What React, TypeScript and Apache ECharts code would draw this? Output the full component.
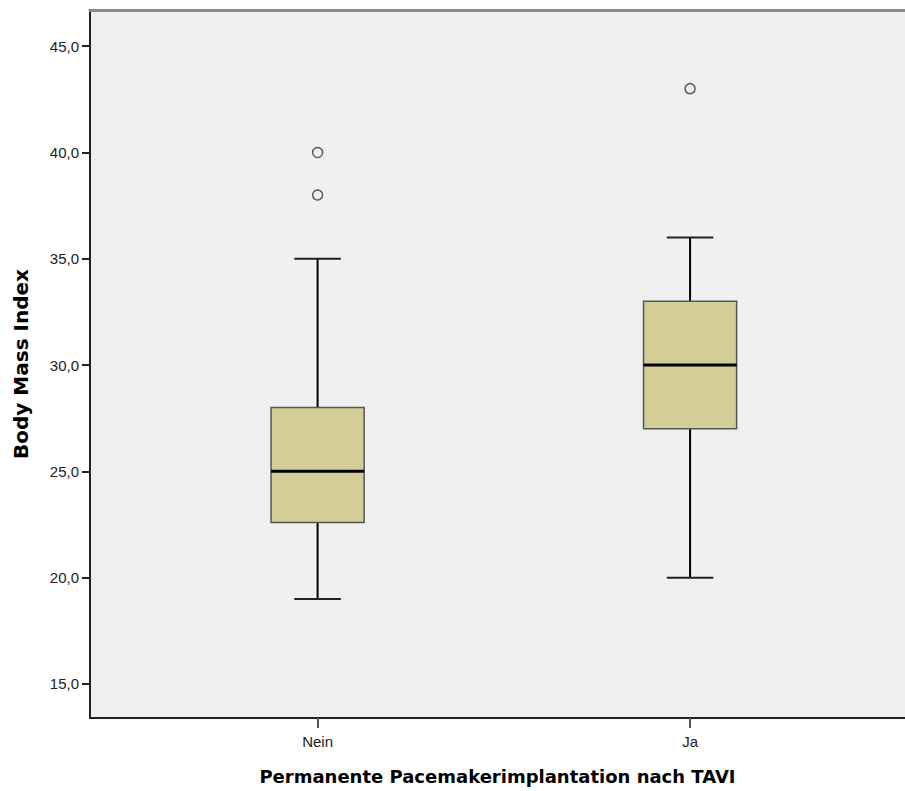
import React, { useEffect, useRef } from "react";
import * as echarts from "echarts";

const categories = ["Nein", "Ja"];
const whiskerLow = [19.0, 20.0];
const quartile1 = [22.6, 27.0];
const medians = [25.0, 30.0];
const quartile3 = [28.0, 33.0];
const whiskerHigh = [35.0, 36.0];
const outlierCategory = [0, 0, 1];
const outlierValues = [40.0, 38.0, 43.0];
const yTicks = [15, 20, 25, 30, 35, 40, 45];

const FONT = "'Liberation Sans', Arial, sans-serif";
const TITLE_FONT = "'DejaVu Sans', 'Liberation Sans', sans-serif";

export default function App() {
  const ref = useRef<HTMLDivElement>(null);
  useEffect(() => {
    if (!ref.current) return;
    const chart = echarts.init(ref.current, null, { renderer: "svg" });
    const boxData = categories.map((_, i) => [
      i + 1,
      whiskerLow[i],
      quartile1[i],
      medians[i],
      quartile3[i],
      whiskerHigh[i],
    ]);
    const outlierData = outlierValues.map((v, i) => [outlierCategory[i] + 1, v]);
    const boxWidth = 0.25;
    chart.setOption({
      animation: false,
      backgroundColor: "#ffffff",
      grid: { left: 90, right: 0, top: 10, bottom: 73, show: true, backgroundColor: "#f0f0f0", borderWidth: 0 },
      xAxis: [
        {
          type: "value",
          min: 0.389,
          max: 2.577,
          name: "Permanente Pacemakerimplantation nach TAVI",
          nameLocation: "middle",
          nameGap: 49,
          nameTextStyle: { fontFamily: TITLE_FONT, fontWeight: "bold", fontSize: 18, color: "#000" },
          splitLine: { show: false },
          axisLine: { show: true, lineStyle: { color: "#222", width: 2 } },
          axisTick: { show: true, customValues: [1, 2], length: 10, lineStyle: { color: "#555", width: 2 } },
          axisLabel: {
            customValues: [1, 2],
            formatter: (v: number) => categories[Math.round(v) - 1] ?? "",
            fontFamily: FONT,
            fontSize: 15,
            color: "#222",
            margin: 16,
          },
        },
        {
          type: "value",
          position: "top",
          min: 0.389,
          max: 2.577,
          splitLine: { show: false },
          axisLine: { show: true, lineStyle: { color: "#888", width: 3 } },
          axisTick: { show: false },
          axisLabel: { show: false },
        },
      ],
      yAxis: {
        type: "value",
        min: 13.4,
        max: 46.7,
        name: "Body Mass Index",
        nameLocation: "middle",
        nameGap: 59,
        nameTextStyle: { fontFamily: TITLE_FONT, fontWeight: "bold", fontSize: 20, color: "#000" },
        splitLine: { show: false },
        axisLine: { show: true, lineStyle: { color: "#222", width: 2 } },
        axisTick: { show: true, customValues: yTicks, length: 8, lineStyle: { color: "#222", width: 2 } },
        axisLabel: {
          customValues: yTicks,
          formatter: (v: number) => v.toFixed(1).replace(".", ","),
          fontFamily: FONT,
          fontSize: 15,
          color: "#222",
          margin: 11,
        },
      },
      series: [
        {
          type: "custom",
          xAxisIndex: 0,
          data: boxData,
          renderItem: (params: any, api: any) => {
            const x = api.value(0);
            const lo = api.coord([x, api.value(1)]);
            const q1 = api.coord([x, api.value(2)]);
            const med = api.coord([x, api.value(3)]);
            const q3 = api.coord([x, api.value(4)]);
            const hi = api.coord([x, api.value(5)]);
            const bw = api.size([boxWidth, 0])[0];
            const cw = bw / 2;
            const lineStyle = { stroke: "#000", lineWidth: 2 };
            return {
              type: "group",
              children: [
                { type: "line", shape: { x1: lo[0], y1: lo[1], x2: q1[0], y2: q1[1] }, style: lineStyle },
                { type: "line", shape: { x1: q3[0], y1: q3[1], x2: hi[0], y2: hi[1] }, style: lineStyle },
                { type: "line", shape: { x1: lo[0] - cw / 2, y1: lo[1], x2: lo[0] + cw / 2, y2: lo[1] }, style: { stroke: "#222", lineWidth: 2 } },
                { type: "line", shape: { x1: hi[0] - cw / 2, y1: hi[1], x2: hi[0] + cw / 2, y2: hi[1] }, style: { stroke: "#222", lineWidth: 2 } },
                {
                  type: "rect",
                  shape: { x: q3[0] - bw / 2, y: q3[1], width: bw, height: q1[1] - q3[1] },
                  style: { fill: "#d3ce98", stroke: "#555", lineWidth: 1.5 },
                },
                { type: "line", shape: { x1: med[0] - bw / 2, y1: med[1], x2: med[0] + bw / 2, y2: med[1] }, style: { stroke: "#000", lineWidth: 3 } },
              ],
            };
          },
        },
        {
          type: "scatter",
          xAxisIndex: 0,
          data: outlierData,
          symbol: "circle",
          symbolSize: 10,
          itemStyle: { color: "#f0f0f0", borderColor: "#333", borderWidth: 1.5 },
        },
      ],
    });
    return () => chart.dispose();
  }, []);
  return <div ref={ref} style={{ width: 905, height: 791, position: "absolute", left: 0, top: 0 }} />;
}
